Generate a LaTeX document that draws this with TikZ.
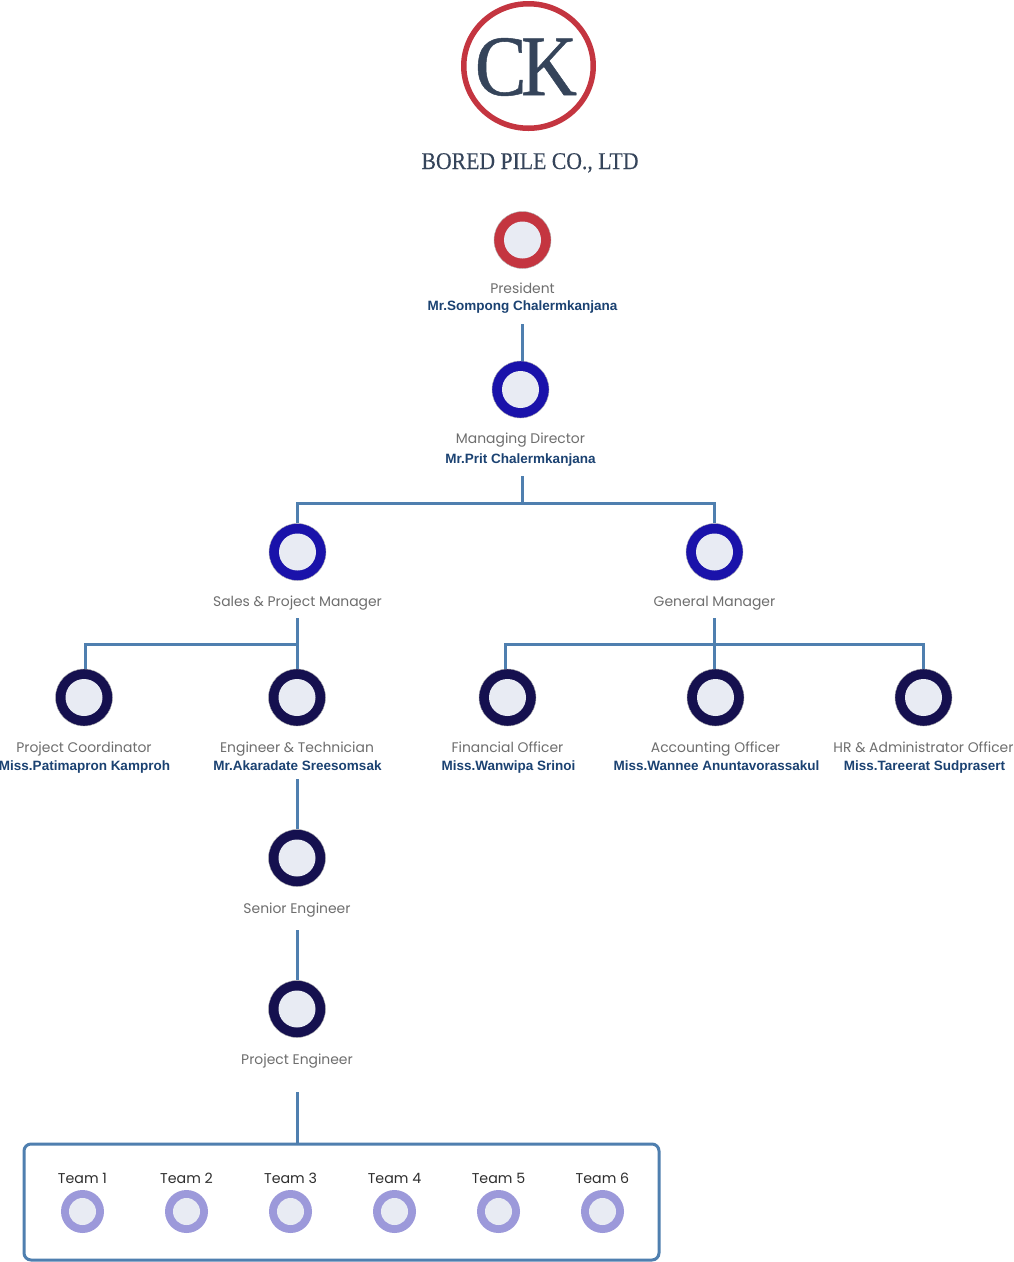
\documentclass[tikz,border=0pt]{standalone}
\usepackage{fontspec}
\usepackage{graphicx}
\usetikzlibrary{shapes.geometric}
\setmainfont{Poppins}
\newfontfamily\namefont{Liberation Sans}
\newfontfamily\logofont[FakeBold=0.6]{Liberation Serif}
\newfontfamily\logotext[FakeBold=0.15]{Liberation Serif}
\definecolor{linkc}{HTML}{4F7FAF}
\definecolor{redc}{HTML}{C43540}
\definecolor{bluec}{HTML}{1A12AA}
\definecolor{navyc}{HTML}{15104F}
\definecolor{lavc}{HTML}{9C99DA}
\definecolor{innerc}{HTML}{E8EBF3}
\definecolor{rolec}{HTML}{6E6E6E}
\definecolor{namec}{HTML}{1B4272}
\definecolor{logoc}{HTML}{35445A}
\definecolor{teamc}{HTML}{2E2E2E}
\tikzset{
  x=1pt,y=-1pt,
  person/.style={circle,inner sep=0pt,minimum size=57pt,fill=#1,draw=gray!60,line width=0.4pt,
    path picture={\fill[innerc] (path picture bounding box.center) circle (18.5pt);}},
  teamdot/.style={circle,inner sep=0pt,minimum size=43pt,fill=lavc,
    path picture={\fill[innerc] (path picture bounding box.center) circle (13.5pt);}},
  role/.style={text=rolec,font=\fontsize{13.9}{16}\selectfont,inner sep=0pt,anchor=base},
  pname/.style={text=namec,font=\namefont\bfseries\fontsize{13.5}{16}\selectfont,inner sep=0pt,anchor=base},
  teamlab/.style={text=teamc,font=\fontsize{14.2}{16}\selectfont,inner sep=0pt,anchor=base},
  link/.style={draw=linkc,line width=3pt},
}
\begin{document}
\begin{tikzpicture}
\useasboundingbox[fill=white] (0,0) rectangle (1014,1262);
% logo
\node[ellipse,draw=redc,line width=5.5pt,minimum width=129.5pt,minimum height=124.5pt,inner sep=0pt] (logo) at (528.5,66) {};
\node[text=logoc,inner sep=0pt,font=\logofont\fontsize{86}{90}\selectfont] (ck) at (526,67) {\scalebox{0.9}[1]{C\kern-0.07em K}};
\node[text=logoc,inner sep=0pt,anchor=base,font=\logotext\fontsize{24}{26}\selectfont] (co) at (530,169) {\scalebox{0.905}[1]{BORED PILE CO., LTD}};
% people
\node[person=redc] (pres) at (522.5,240) {};
\node[role] (presr) at (522.5,293) {President};
\node[pname] (presn) at (522.5,310) {Mr.Sompong Chalermkanjana};
\node[person=bluec] (md) at (520.5,389.5) {};
\node[role] (mdr) at (520.5,443) {Managing Director};
\node[pname] (mdn) at (520.5,463) {Mr.Prit Chalermkanjana};
\node[person=bluec] (sales) at (297.5,552) {};
\node[role] (salesr) at (297.5,606) {Sales \& Project Manager};
\node[person=bluec] (gm) at (714.5,552) {};
\node[role] (gmr) at (714.5,606) {General Manager};
\node[person=navyc] (pc) at (84,697.5) {};
\node[role] (pcr) at (84,752) {Project Coordinator};
\node[pname] (pcn) at (84.5,770) {Miss.Patimapron Kamproh};
\node[person=navyc] (et) at (297,697.5) {};
\node[role] (etr) at (297,752) {Engineer \& Technician};
\node[pname] (etn) at (297.5,770) {Mr.Akaradate Sreesomsak};
\node[person=navyc] (fo) at (507.5,697.5) {};
\node[role] (for) at (507.5,752) {Financial Officer};
\node[pname] (fon) at (508.5,770) {Miss.Wanwipa Srinoi};
\node[person=navyc] (ao) at (715.5,697.5) {};
\node[role] (aor) at (715.5,752) {Accounting Officer};
\node[pname] (aon) at (716.5,770) {Miss.Wannee Anuntavorassakul};
\node[person=navyc] (hr) at (923.5,697.5) {};
\node[role] (hrr) at (923.5,752) {HR \& Administrator Officer};
\node[pname] (hrn) at (924.5,770) {Miss.Tareerat Sudprasert};
\node[person=navyc] (se) at (297,858) {};
\node[role] (ser) at (297,913) {Senior Engineer};
\node[person=navyc] (pe) at (297,1009) {};
\node[role] (per) at (297,1064) {Project Engineer};
% team box
\node[draw=linkc,line width=3pt,rounded corners=7pt,fill=white,inner sep=0pt,minimum width=635pt,minimum height=116pt] (box) at (341.5,1202) {};
\foreach \i/\xx in {1/82.5,2/186.5,3/290.5,4/394.5,5/498.5,6/602.5}{
  \node[teamlab] (tl\i) at (\xx,1183) {Team \i};
  \node[teamdot] (t\i) at (\xx,1211.5) {};
}
% free ends and junctions
\coordinate (presout) at (522,324);
\coordinate (mdout) at (522,476);
\coordinate (mdbus) at (522,503);
\coordinate (salesout) at (297,618);
\coordinate (salesbus) at (297,644);
\coordinate (gmout) at (714,618);
\coordinate (gmbus) at (714,644);
\coordinate (etout) at (297,779);
\coordinate (seout) at (297,930);
\coordinate (peout) at (297,1092);
% connectors
\draw[link] (presout) -- (presout |- md.north);
\draw[link] (mdout) -- (mdbus);
\draw[link] (sales.north) |- (mdbus) -| (gm.north);
\draw[link] (salesout) -- (et.north -| salesout);
\draw[link] (pc.north -| 85,0) |- (salesbus);
\draw[link] (gmout) -- (gmout |- ao.north);
\draw[link] (fo.north -| 505,0) |- (gmbus) -| (hr.north);
\draw[link] (etout) -- (se.north);
\draw[link] (seout) -- (pe.north);
\draw[link] (peout) -- (peout |- box.north);
\end{tikzpicture}
\end{document}
